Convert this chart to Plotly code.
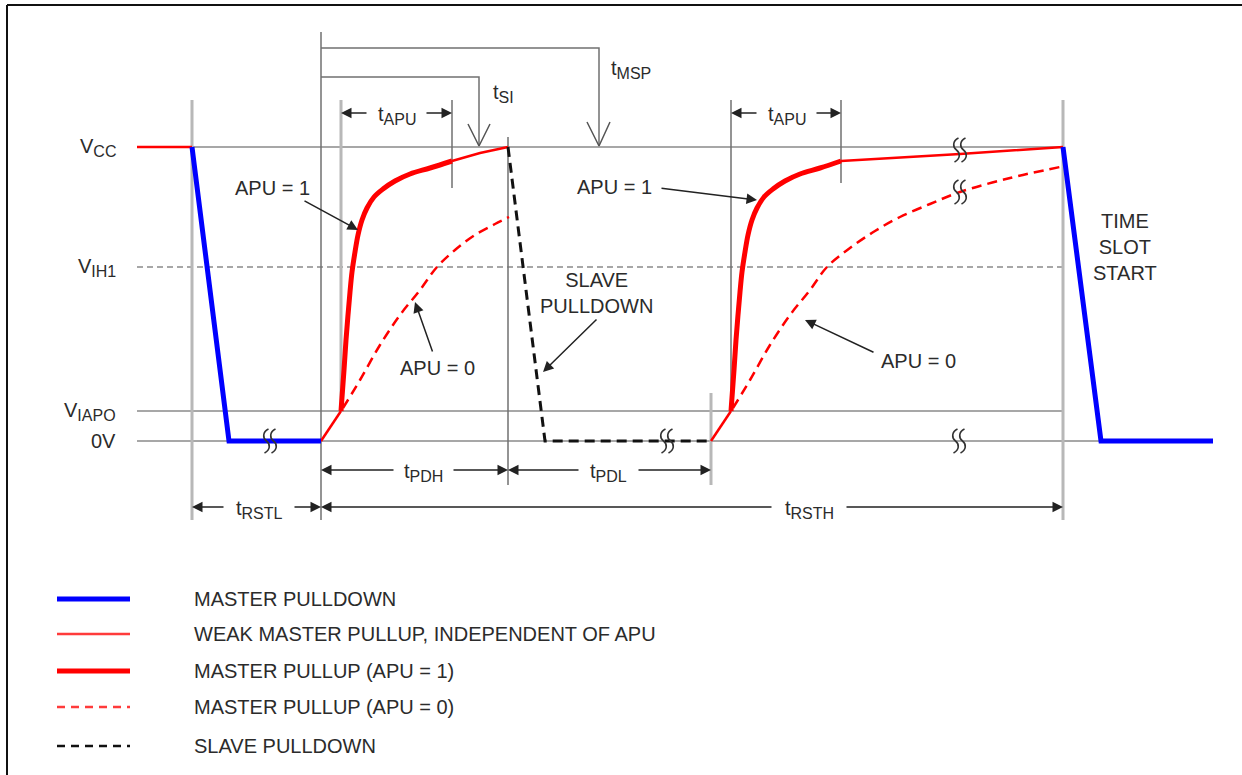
import plotly.graph_objects as go

# ---------------- data (diagram units: x = time axis, y = level axis, downwards) -------------
level_labels = ["CC", "IH1", "IAPO", "0V"]
level_y = [147, 267, 411, 441]

# Master pulldown (blue)
mpd1_t = [192, 229, 321]
mpd1_v = [147, 441, 441]
mpd2_t = [1063, 1101, 1213]
mpd2_v = [147, 441, 441]

# Weak master pullup (thin red) segments
weak_t = [137, 192, None, 321, 341, None, 452, 480, 508, None, 711, 731, None, 841, 960, 1063]
weak_v = [147, 147, None, 441, 411, None, 161, 153, 147, None, 441, 411, None, 161, 154, 147]

# Master pullup APU = 1 (thick red)
apu1a_t = [341, 344, 346, 348, 350, 352, 355, 358, 362, 367, 374, 383, 395, 410, 430, 452]
apu1a_v = [411, 370, 340, 315, 292, 272, 252, 235, 220, 208, 197, 189, 181, 174, 168, 161]
apu1b_t = [731, 734, 736, 738, 740, 742, 745, 748, 752, 757, 764, 773, 785, 800, 820, 841]
apu1b_v = [411, 370, 340, 315, 292, 272, 252, 235, 220, 208, 197, 189, 181, 174, 168, 161]

# Master pullup APU = 0 (dashed red)
apu0a_t = [343, 360, 380, 400, 420, 437, 455, 475, 495, 509]
apu0a_v = [408, 380, 345, 315, 290, 267, 250, 235, 224, 217]
apu0b_t = [733, 750, 770, 790, 810, 827, 850, 875, 900, 930, 960, 1010, 1060]
apu0b_v = [408, 380, 345, 315, 290, 267, 248, 231, 217, 204, 192, 178, 167]

# Slave pulldown (dashed black)
spd_t = [508, 545, 711]
spd_v = [147, 441, 441]

legend_labels = ["MASTER PULLDOWN", "WEAK MASTER PULLUP, INDEPENDENT OF APU",
                 "MASTER PULLUP (APU = 1)", "MASTER PULLUP (APU = 0)", "SLAVE PULLDOWN"]

# ---------------- styling -------------
FONT = "Liberation Sans, Arial, sans-serif"
TXT = "#2b2b2b"
FS = 20
RED = "#ff0000"
BLUE = "#0000ff"
GRID = "#8a8a8a"
LIGHT = "#b8b8b8"
DARK = "#707070"


def sub(base, s):
    return f"{base}<sub><span style='font-size:16px'>{s}</span></sub>"


fig = go.Figure()


def line(x, y, color, width, dash="solid", shape="linear"):
    fig.add_trace(go.Scatter(x=x, y=y, mode="lines", showlegend=False, hoverinfo="skip",
                             line=dict(color=color, width=width, dash=dash, shape=shape)))


# horizontal level lines
line([137, 1063], [level_y[0]] * 2, GRID, 1.5)
line([137, 1063], [level_y[1]] * 2, GRID, 1.3, "6px,4px")
line([137, 1063], [level_y[2]] * 2, GRID, 1.5)
line([137, 1213], [level_y[3]] * 2, GRID, 1.5)

# vertical marker lines
thick_x = [192, 341, 711, 1063]
thick_y0 = [100, 100, 393, 100]
thick_y1 = [520, 411, 485, 520]
for xx, a, b in zip(thick_x, thick_y0, thick_y1):
    line([xx, xx], [a, b], LIGHT, 3)
thin_x = [321, 452, 508, 731, 841]
thin_y0 = [32, 100, 137, 100, 100]
thin_y1 = [520, 188, 485, 411, 183]
for xx, a, b in zip(thin_x, thin_y0, thin_y1):
    line([xx, xx], [a, b], DARK, 1.5)

# brackets tSI / tMSP with open V heads
line([321, 479, 479], [77, 77, 146], DARK, 1.5)
line([468, 479, 490], [124, 146, 124], "#555", 1.5)
line([321, 599, 599], [48, 48, 146], DARK, 1.5)
line([587, 599, 610], [122, 146, 122], "#555", 1.5)

# waveforms
line(apu0a_t, apu0a_v, RED, 2.5, "10px,6px", "spline")
line(apu0b_t, apu0b_v, RED, 2.5, "10px,6px", "spline")
line(weak_t, weak_v, RED, 2.5)
line(apu1a_t, apu1a_v, RED, 5, shape="spline")
line(apu1b_t, apu1b_v, RED, 5, shape="spline")
line(spd_t, spd_v, "#111111", 3, "10px,6px")
line(mpd1_t, mpd1_v, BLUE, 5)
line(mpd2_t, mpd2_v, BLUE, 5)

# legend samples
leg_y = [599, 634, 671, 707, 746]
leg_styles = [(BLUE, 5, "solid"), ("#ff3b3b", 2.5, "solid"), (RED, 5, "solid"),
              ("#ff3b3b", 2.5, "8px,6px"), ("#111111", 2.5, "8px,6px")]
for yy, (c, w, d), lab in zip(leg_y, leg_styles, legend_labels):
    line([57, 130], [yy, yy], c, w, d)
    fig.add_annotation(x=192, y=yy, text=lab, showarrow=False, xanchor="left", yanchor="middle",
                       font=dict(family=FONT, size=FS, color=TXT))

# level labels
level_text = [sub("V", s) for s in level_labels[:3]] + [level_labels[3]]
for lab, yy in zip(level_text, level_y):
    fig.add_annotation(x=118, y=yy, text=lab, showarrow=False, xanchor="right", yanchor="middle",
                       font=dict(family=FONT, size=FS, color=TXT))

# dimension arrows: (label, y, x_left, x_right, tail_left, tail_right)
dims = [
    (sub("t", "APU"), 113, 341, 452, 368, 425),
    (sub("t", "APU"), 113, 731, 841, 758, 815),
    (sub("t", "PDH"), 470, 321, 508, 395, 452),
    (sub("t", "PDL"), 470, 508, 711, 580, 637),
    (sub("t", "RSTL"), 507, 192, 321, 225, 293),
    (sub("t", "RSTH"), 507, 321, 1063, 773, 845),
]
arrow_kw = dict(showarrow=True, arrowhead=2, arrowsize=1.4, arrowwidth=1.5, arrowcolor="#222",
                standoff=0, startstandoff=0, axref="x", ayref="y", text="")
for lab, yy, xl, xr, tl, tr in dims:
    fig.add_annotation(x=xl, y=yy, ax=tl, ay=yy, **arrow_kw)
    fig.add_annotation(x=xr, y=yy, ax=tr, ay=yy, **arrow_kw)
    fig.add_annotation(x=(tl + tr) / 2, y=yy + 2, text=lab, showarrow=False, xanchor="center",
                       yanchor="middle", font=dict(family=FONT, size=FS, color=TXT))

# callout arrows (tail -> tip)
callouts = [((303, 200), (358, 230)), ((433, 353), (415, 302)), ((598, 318), (543, 372)),
            ((660, 188), (757, 200)), ((875, 353), (805, 320))]
for (tx, ty), (hx, hy) in callouts:
    fig.add_annotation(x=hx, y=hy, ax=tx, ay=ty, **arrow_kw)

# text labels
texts = [
    ("APU = 1", 272, 188, "center"),
    ("APU = 0", 437, 368, "center"),
    ("SLAVE<br>PULLDOWN", 596, 293, "center"),
    ("APU = 1", 614, 187, "center"),
    ("APU = 0", 918, 361, "center"),
    ("TIME<br>SLOT<br>START", 1125, 247, "center"),
    (sub("t", "SI"), 491, 93, "left"),
    (sub("t", "MSP"), 609, 69, "left"),
]
for t, xx, yy, anc in texts:
    fig.add_annotation(x=xx, y=yy, text=t, showarrow=False, xanchor=anc, yanchor="middle",
                       align="center", font=dict(family=FONT, size=FS, color=TXT))

# break symbols
breaks = [(270, 441), (667, 441), (959, 441), (960, 150), (960, 192)]
shapes = []
for cx, cy in breaks:
    for dx in (-3.5, 3.5):
        x0 = cx + dx
        p = (f"M {x0+2},{cy-12} C {x0-4},{cy-9} {x0-4},{cy-3} {x0},{cy} "
             f"C {x0+4},{cy+3} {x0+4},{cy+9} {x0-2},{cy+12}")
        shapes.append(dict(type="path", path=p, xref="x", yref="y",
                           line=dict(color="#333", width=1.6)))

# outer frame
shapes.append(dict(type="line", xref="x", yref="y", x0=7, x1=1242, y0=5, y1=5,
                   line=dict(color="#111", width=2)))
shapes.append(dict(type="line", xref="x", yref="y", x0=7, x1=7, y0=5, y1=775,
                   line=dict(color="#111", width=2)))

fig.update_layout(
    width=1242, height=775, margin=dict(l=0, r=0, t=0, b=0),
    paper_bgcolor="white", plot_bgcolor="white", shapes=shapes,
    xaxis=dict(range=[0, 1242], visible=False, fixedrange=True),
    yaxis=dict(range=[775, 0], visible=False, fixedrange=True),
    showlegend=False,
)

fig.write_html("out.html", config={"displayModeBar": False},
               post_script="document.body.style.margin='0';")
